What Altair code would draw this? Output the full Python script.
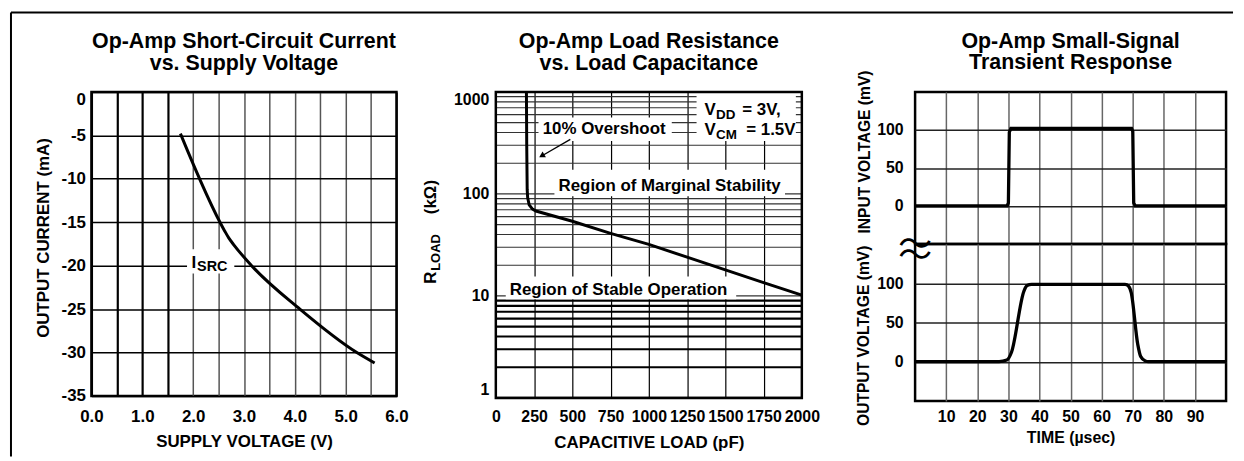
import altair as alt
import pandas as pd

FONT = "Liberation Sans"

# ---------------- Panel 1: short-circuit current vs supply voltage
sc_supply_v = [1.75, 2.62, 2.70, 2.80, 3.15, 4.10, 5.22, 5.57]
sc_output_ma = [-4.8, -16.0, -16.8, -17.6, -20.0, -25.0, -30.0, -31.2]
sc_x_ticks = [0.0, 0.5, 1.0, 1.5, 2.0, 2.5, 3.0, 3.5, 4.0, 4.5, 5.0, 5.5, 6.0]
sc_y_ticks = [0, -5, -10, -15, -20, -25, -30, -35]
sc_x_domain = [0, 6]
sc_y_domain = [-35, 0]
sc_label_box = [1.88, 2.81, -18.1, -20.9]      # x1, x2, y1, y2 (data units)
sc_label_pos = [1.97, -20.25]

# ---------------- Panel 2: load resistance vs load capacitance
rl_cap_pf = [200, 202, 205, 208, 218, 240, 262, 500, 750, 1000, 1250, 1500, 1750, 2000]
rl_load_kohm = [1000, 300, 110, 92, 78, 71, 68, 54, 41, 32, 24, 18, 13.5, 10.2]
rl_x_ticks = [0, 250, 500, 750, 1000, 1250, 1500, 1750, 2000]
rl_y_labels = [1, 10, 100, 1000]
rl_y_grid = [1, 2, 3, 4, 5, 6, 7, 8, 9, 10, 20, 30, 40, 50, 60, 70, 80, 90,
             100, 200, 300, 400, 500, 600, 700, 800, 900, 1000]
rl_x_domain = [0, 2000]
rl_y_domain = [1, 1000]
rl_box_x1 = [279, 1312, 383, 65]
rl_box_x2 = [1150, 1961, 1890, 1571]
rl_box_y1 = [330, 330, 95, 9.3]
rl_box_y2 = [560, 1000, 173, 15.5]
rl_notes = ["10% Overshoot", "Region of Marginal Stability", "Region of Stable Operation"]
rl_notes_x = [708, 1136, 802]
rl_notes_y = [390, 106, 10.1]
rl_cond_x = 1364
rl_cond_y = [596, 381]
rl_arrow_x = [487, 305]
rl_arrow_y = [343, 238]
rl_arrow_tip = [300, 236]

# ---------------- Panel 3: small-signal transient response
tr_in_time = [0, 29.6, 30.0, 30.3, 30.8, 69.6, 70.0, 70.3, 70.8, 100]
tr_in_mv = [0, 0, 4, 97, 102, 102, 98, 4, 0, 0]
tr_out_time = [0, 27, 29.5, 31, 35, 36, 37.5, 67.5, 68.7, 69.5, 71.6, 72.5, 74, 75, 100]
tr_out_mv = [0, 0, 2, 12, 90, 97, 98.5, 98.5, 96, 88, 22, 7, 1, 0, 0]
tr_time_ticks = [10, 20, 30, 40, 50, 60, 70, 80, 90]
tr_mv_ticks = [0, 50, 100]
tr_t_domain = [0, 100]
tr_mv_domain = [-50, 150]

# ---------------- scales
SC_X = alt.Scale(domain=sc_x_domain, nice=False, zero=False)
SC_Y = alt.Scale(domain=sc_y_domain, nice=False, zero=False)
RL_X = alt.Scale(domain=rl_x_domain, nice=False, zero=False, range=[0, 308])
RL_Y = alt.Scale(type="log", domain=rl_y_domain, nice=False)
TR_X = alt.Scale(domain=tr_t_domain, nice=False, zero=False)
TR_Y = alt.Scale(domain=tr_mv_domain, nice=False, zero=False)

one = pd.DataFrame({"k": [0]})


def title_params(lines, dx=0, dy=22):
    return alt.TitleParams(text=lines, font=FONT, fontWeight="bold", fontSize=21.5,
                           color="black", anchor="middle", frame="group",
                           baseline="bottom", offset=17, dy=dy, lineHeight=22, dx=dx)


def txt(df, xs, ys, text, size=17, align="center", dx=0, dy=0):
    return alt.Chart(df).mark_text(text=text, font=FONT, fontWeight="bold", fontSize=size,
                                   align=align, baseline="alphabetic", dx=dx, dy=dy,
                                   color="black").encode(x=xs, y=ys)


# ================= Panel 1
p1_x_axis = alt.Axis(
    values=sc_x_ticks,
    labelExpr="datum.value % 1 == 0 ? format(datum.value, '.1f') : ''",
    title="SUPPLY VOLTAGE (V)", titleY=51, titleBaseline="alphabetic",
    labelPadding=13, labelFlush=False, labelOverlap=False, grid=True,
    gridColor={"condition": {"test": "datum.value < 1.75 || datum.value > 5.9", "value": "black"},
               "value": "#555555"},
    gridWidth={"condition": {"test": "datum.value < 1.75", "value": 2.2}, "value": 1.5},
)
p1_y_axis = alt.Axis(
    values=sc_y_ticks,
    labelExpr="datum.value == 0 ? '0' : '-' + abs(datum.value)",
    labelBaseline={"condition": {"test": "datum.value == 0", "value": "top"}, "value": "middle"},
    labelPadding=6, labelFlush=False, title="OUTPUT CURRENT (mA)", titleAngle=270,
    titleAlign="center", titleBaseline="alphabetic", titleX=-43, titleY=146.5,
    grid=True, gridColor="black", gridWidth=1.5,
)


def p1x(f):
    return alt.X(f, type="quantitative", scale=SC_X, axis=p1_x_axis)


def p1y(f):
    return alt.Y(f, type="quantitative", scale=SC_Y, axis=p1_y_axis)


sc_df = pd.DataFrame({"supply": sc_supply_v, "current": sc_output_ma})
p1_line = alt.Chart(sc_df).mark_line(color="black", strokeWidth=3, interpolate="monotone").encode(
    x=p1x("supply"), y=p1y("current"))
sc_box_df = pd.DataFrame({"x1": [sc_label_box[0]], "x2": [sc_label_box[1]],
                          "y1": [sc_label_box[2]], "y2": [sc_label_box[3]]})
p1_box = alt.Chart(sc_box_df).mark_rect(color="white").encode(
    x=p1x("x1"), x2="x2:Q", y=p1y("y1"), y2="y2:Q")
sc_lbl_df = pd.DataFrame({"x": [sc_label_pos[0]], "y": [sc_label_pos[1]]})
p1 = alt.layer(
    p1_box, p1_line,
    txt(sc_lbl_df, p1x("x"), p1y("y"), "I", size=17, align="left"),
    txt(sc_lbl_df, p1x("x"), p1y("y"), "SRC", size=14.5, align="left", dx=5.5, dy=3.5),
).properties(width=307, height=306,
             title=title_params(["Op-Amp Short-Circuit Current", "vs. Supply Voltage"]))

# ================= Panel 2
p2_x_axis = alt.Axis(values=rl_x_ticks, format="d", title="CAPACITIVE LOAD (pF)",
                     titleY=49.5, titleX=154, titleAlign="center", titleBaseline="alphabetic",
                     labelPadding=10.8, labelFontSize=16, labelFlush=False, labelOverlap=False,
                     grid=True, gridColor="black", gridWidth=1.2)
p2_y_axis = alt.Axis(values=rl_y_labels, format="d", title=None, labelPadding=7,
                     labelFontSize=16, labelFlush=True, grid=False)


def p2x(f):
    return alt.X(f, type="quantitative", scale=RL_X, axis=p2_x_axis)


def p2y(f):
    return alt.Y(f, type="quantitative", scale=RL_Y, axis=p2_y_axis)


rl_df = pd.DataFrame({"cap": rl_cap_pf, "res": rl_load_kohm})
p2_curve = alt.Chart(rl_df).mark_line(color="black", strokeWidth=3).encode(
    x=p2x("cap"), y=p2y("res"))
grid_df = pd.DataFrame({"g": rl_y_grid, "x0": rl_x_domain[0], "x1": rl_x_domain[1]})
p2_grid = alt.Chart(grid_df).mark_rule().encode(
    x=p2x("x0"), x2="x1:Q", y=p2y("g"),
    color=alt.condition("datum.g < 10", alt.value("black"), alt.value("#333333")),
    strokeWidth=alt.condition("datum.g < 10", alt.value(2.2), alt.value(1.2)),
)
box_df = pd.DataFrame({"x1": rl_box_x1, "x2": rl_box_x2, "y1": rl_box_y1, "y2": rl_box_y2})
p2_boxes = alt.Chart(box_df).mark_rect(color="white").encode(
    x=p2x("x1"), x2="x2:Q", y=p2y("y1"), y2="y2:Q")
frame_df = pd.DataFrame({"x1": [rl_x_domain[0]], "x2": [rl_x_domain[1]],
                         "y1": [rl_y_domain[0]], "y2": [rl_y_domain[1]]})
p2_frame = alt.Chart(frame_df).mark_rect(fillOpacity=0, stroke="black", strokeWidth=2.5).encode(
    x=p2x("x1"), x2="x2:Q", y=p2y("y1"), y2="y2:Q")
note_layers = []
for n, xv, yv in zip(rl_notes, rl_notes_x, rl_notes_y):
    note_layers.append(txt(pd.DataFrame({"x": [xv], "y": [yv]}), p2x("x"), p2y("y"), n, size=17))
c1 = pd.DataFrame({"x": [rl_cond_x], "y": [rl_cond_y[0]]})
c2 = pd.DataFrame({"x": [rl_cond_x], "y": [rl_cond_y[1]]})
cond_layers = [
    txt(c1, p2x("x"), p2y("y"), "V", align="left"),
    txt(c1, p2x("x"), p2y("y"), "DD", size=13.5, align="left", dx=11.5, dy=4),
    txt(c1, p2x("x"), p2y("y"), "= 3V,", align="left", dx=38),
    txt(c2, p2x("x"), p2y("y"), "V", align="left"),
    txt(c2, p2x("x"), p2y("y"), "CM", size=13.5, align="left", dx=11.5, dy=4),
    txt(c2, p2x("x"), p2y("y"), "= 1.5V", align="left", dx=42),
]
arrow_df = pd.DataFrame({"x": rl_arrow_x, "y": rl_arrow_y})
p2_arrow = alt.Chart(arrow_df).mark_line(color="black", strokeWidth=1.3).encode(x=p2x("x"), y=p2y("y"))
tip_df = pd.DataFrame({"x": [rl_arrow_tip[0]], "y": [rl_arrow_tip[1]]})
p2_tip = alt.Chart(tip_df).mark_point(shape="triangle-up", filled=True, color="black",
                                      size=45, angle=240, opacity=1).encode(x=p2x("x"), y=p2y("y"))


def ypiece(text, size, dx=0, dy=0):
    return alt.Chart(one).mark_text(text=text, font=FONT, fontWeight="bold", fontSize=size, angle=270,
                                    align="left", baseline="alphabetic", dx=dx, dy=dy,
                                    color="black").encode(x=alt.value(-60), y=alt.value(193))


ytitle = [ypiece("R", 17), ypiece("LOAD", 13, dx=13, dy=4), ypiece("(kΩ)", 17, dx=70)]
p2 = alt.layer(
    p2_grid, p2_boxes, p2_frame, p2_curve, *note_layers, *cond_layers, p2_arrow, p2_tip, *ytitle
).properties(width=322, height=308, view=alt.ViewBackground(strokeOpacity=0),
             title=title_params(["Op-Amp Load Resistance", "vs. Load Capacitance"], dx=-7, dy=27))

# ================= Panel 3
p3a_x_axis = alt.Axis(values=tr_time_ticks, labels=False, title=None,
                      grid=True, gridColor="#666666", gridWidth=1.5)
p3a_y_axis = alt.Axis(values=tr_mv_ticks, labelPadding=12, labelFontSize=16,
                      title="INPUT VOLTAGE (mV)", titleFontSize=15.7,
                      titleAngle=270, titleAlign="center",
                      titleBaseline="alphabetic", titleX=-46, titleY=60,
                      grid=True, gridColor="#222222", gridWidth=1.5)
p3b_x_axis = alt.Axis(values=tr_time_ticks, title="TIME (µsec)", titleFontSize=16,
                      titleY=42, titleBaseline="alphabetic", labelPadding=7.8,
                      labelFontSize=16, labelFlush=False,
                      grid=True, gridColor="#666666", gridWidth=1.5)
p3b_y_axis = alt.Axis(values=tr_mv_ticks, labelPadding=12, labelFontSize=16,
                      title="OUTPUT VOLTAGE (mV)", titleFontSize=15.7,
                      titleAngle=270, titleAlign="center",
                      titleBaseline="alphabetic", titleX=-47, titleY=92,
                      grid=True, gridColor="#222222", gridWidth=1.5)

in_df = pd.DataFrame({"t": tr_in_time, "mv": tr_in_mv})
out_df = pd.DataFrame({"t": tr_out_time, "mv": tr_out_mv})
ax = alt.X("t:Q", scale=TR_X, axis=p3a_x_axis)
ay = alt.Y("mv:Q", scale=TR_Y, axis=p3a_y_axis)
p3a_line = alt.Chart(in_df).mark_line(color="black", strokeWidth=3.3).encode(x=ax, y=ay)
brk_df = pd.DataFrame({"t": [tr_t_domain[0]], "mv": [tr_mv_domain[0]]})
squig = alt.Chart(brk_df).mark_text(text=["〜", "〜"], font="Noto Sans CJK JP", fontSize=34,
                                    lineHeight=11, baseline="middle", align="center", dy=2.5,
                                    color="black").encode(x=ax, y=ay)
p3a = alt.layer(p3a_line, squig).properties(
    width=313, height=153,
    title=title_params(["Op-Amp Small-Signal", "Transient Response"], dy=43))

p3b_line = alt.Chart(out_df).mark_line(color="black", strokeWidth=3.3, interpolate="monotone").encode(
    x=alt.X("t:Q", scale=TR_X, axis=p3b_x_axis),
    y=alt.Y("mv:Q", scale=TR_Y, axis=p3b_y_axis),
)
# outer page border (top and left edges)
border_top = alt.Chart(one).mark_rule(color="black", strokeWidth=2).encode(
    x=alt.value(-910), x2=alt.value(320), y=alt.value(-233))
border_left = alt.Chart(one).mark_rule(color="black", strokeWidth=2).encode(
    x=alt.value(-910), y=alt.value(-233), y2=alt.value(214))
p3b = alt.layer(p3b_line, border_top, border_left).properties(width=313, height=158)

p3 = alt.vconcat(p3a, p3b, spacing=0, bounds="flush")

chart = alt.hconcat(p1, p2, p3, spacing=100, bounds="flush").properties(
    padding=0, background="white"
).configure_view(
    stroke="black", strokeWidth=2.5
).configure_axis(
    labelFont=FONT, labelFontWeight="bold", labelColor="black", labelFontSize=17,
    titleFont=FONT, titleFontWeight="bold", titleColor="black", titleFontSize=17,
    ticks=False, tickSize=0, domain=False, gridOpacity=1,
)

chart.save("out.html", embed_options={"renderer": "svg", "actions": False})
